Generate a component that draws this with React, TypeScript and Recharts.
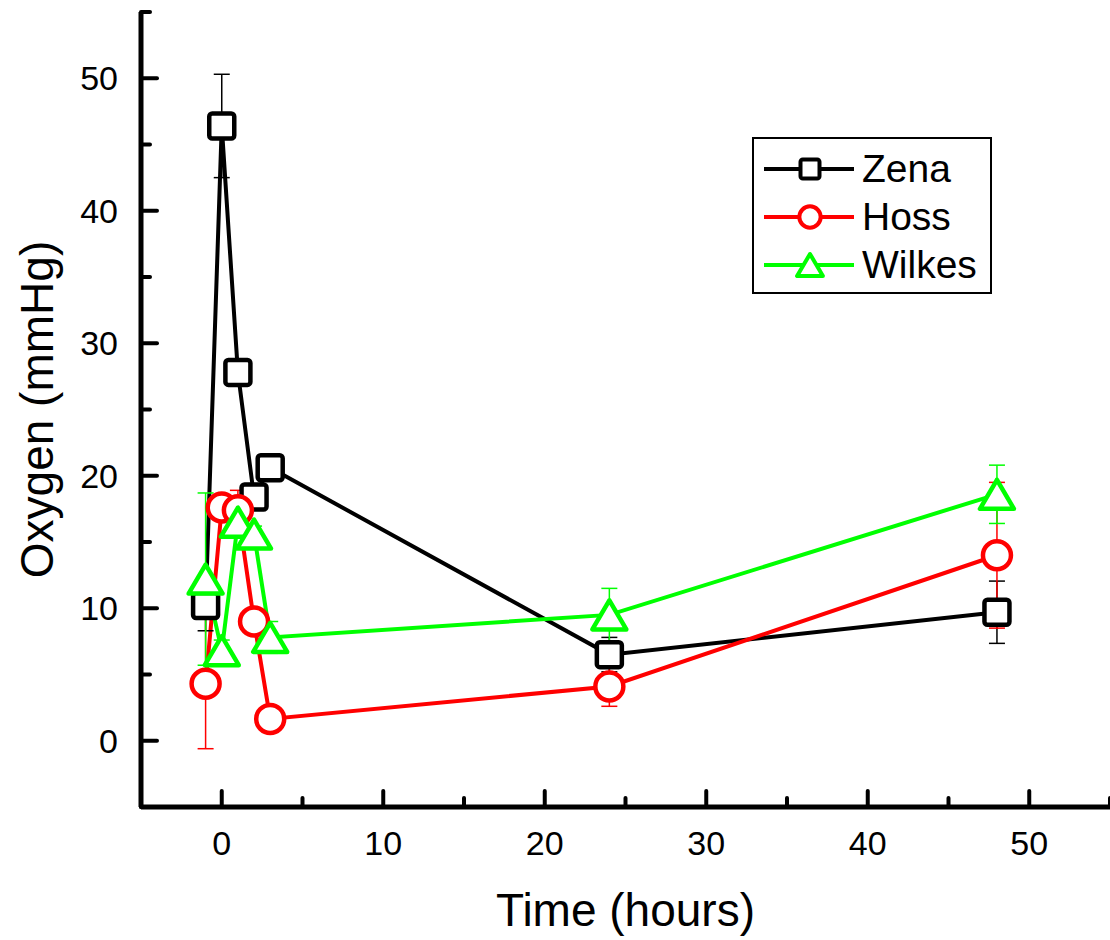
import React from "react"
import { ComposedChart, Line, XAxis, YAxis, ErrorBar, Legend } from "recharts"

// sampling times (hours) and mean oxygen readings per subject
const hours = [-1, 0, 1, 2, 3, 24, 48]
const zena = [10.2, 46.4, 27.8, 18.4, 20.6, 6.5, 9.7]
const zenaErr = [1.9, 3.9, 0.5, 1.0, 0.4, 1.3, 2.35]
const hoss = [4.3, 17.6, 17.4, 9.0, 1.65, 4.1, 14.0]
const hossErr = [4.9, 0.5, 1.5, 0.8, 0.3, 1.5, 5.5]
const wilkes = [12.2, 6.8, 16.5, 15.6, 7.8, 9.5, 18.6]
const wilkesErr = [6.5, 0.8, 0.6, 0.6, 1.2, 2.0, 2.2]

const axisTicks = [-5, 0, 5, 10, 15, 20, 25, 30, 35, 40, 45, 50, 55]

const series = [
  { key: "zena", name: "Zena", color: "#000000", shape: "square" },
  { key: "hoss", name: "Hoss", color: "#ff0000", shape: "circle" },
  { key: "wilkes", name: "Wilkes", color: "#00ff00", shape: "triangle" },
]

const data = hours.map((h, i) => ({
  hour: h,
  zena: zena[i],
  zenaErr: zenaErr[i],
  hoss: hoss[i],
  hossErr: hossErr[i],
  wilkes: wilkes[i],
  wilkesErr: wilkesErr[i],
}))

const FONT = "'Liberation Sans', Arial, sans-serif"

const marker = (shape, color, cx, cy, s, sw, key?) => {
  if (shape === "square") {
    return (
      <rect key={key} x={cx - s / 2} y={cy - s / 2} width={s} height={s} rx={s * 0.12}
        fill="#fff" stroke={color} strokeWidth={sw} />
    )
  }
  if (shape === "circle") {
    return <circle key={key} cx={cx} cy={cy} r={s * 0.56} fill="#fff" stroke={color} strokeWidth={sw} />
  }
  const hw = s * 0.68
  const hh = s * 0.58
  return (
    <polygon key={key} points={`${cx},${cy - hh} ${cx - hw},${cy + hh} ${cx + hw},${cy + hh}`}
      fill="#fff" stroke={color} strokeWidth={sw} strokeLinejoin="round" />
  )
}

const makeDot = (shape, color) => (props) => {
  const { cx, cy, index } = props
  if (cx == null || cy == null) return <g key={`${shape}-${index}`} />
  return marker(shape, color, cx, cy, 25, 4.5, `${shape}-${index}`)
}

const XTick = (props) => {
  const { x, y, payload } = props
  const v = payload.value
  const major = v % 10 === 0
  return (
    <g>
      <line x1={x} y1={y} x2={x} y2={y - (major ? 16 : 9)} stroke="#000" strokeWidth={4} strokeLinecap="round" />
      {major && (
        <text x={x} y={y + 48} textAnchor="middle" fontSize={34} fontFamily={FONT} fill="#000">
          {v}
        </text>
      )}
    </g>
  )
}

const YTick = (props) => {
  const { x, y, payload } = props
  const v = payload.value
  const major = v % 10 === 0
  return (
    <g>
      <line x1={x} y1={y} x2={x + (major ? 16 : 9)} y2={y} stroke="#000" strokeWidth={4} strokeLinecap="round" />
      {major && (
        <text x={x - 23} y={y + 12} textAnchor="end" fontSize={34} fontFamily={FONT} fill="#000">
          {v}
        </text>
      )}
    </g>
  )
}

const LegendBox = () => (
  <div
    style={{
      width: 240,
      height: 157,
      boxSizing: "border-box",
      border: "2px solid #000",
      background: "#fff",
      paddingTop: 6,
    }}
  >
    {series.map((s) => (
      <div key={s.key} style={{ display: "flex", alignItems: "center", height: 48 }}>
        <svg width={108} height={40} style={{ display: "block" }}>
          <line x1={10} y1={20} x2={100} y2={20} stroke={s.color} strokeWidth={4} />
          {marker(s.shape, s.color, 56, 20, 19, 4)}
        </svg>
        <span style={{ fontFamily: FONT, fontSize: 39, color: "#000", lineHeight: "40px" }}>{s.name}</span>
      </div>
    ))}
  </div>
)

export default function App() {
  return (
    <div style={{ position: "absolute", left: 0, top: 0, width: 1110, height: 940, background: "#fff" }}>
      <ComposedChart width={1110} height={940} data={data} margin={{ top: 12, right: 0, left: 0, bottom: 0 }}>
        <XAxis
          type="number"
          dataKey="hour"
          domain={[-5, 55]}
          ticks={axisTicks}
          interval={0}
          allowDataOverflow
          height={133}
          tickSize={0}
          tickMargin={0}
          tickLine={false}
          axisLine={{ stroke: "#000", strokeWidth: 5 }}
          tick={<XTick />}
          label={{
            value: "Time (hours)",
            position: "insideBottom",
            offset: 14,
            style: { fontSize: 46, fontFamily: FONT, fill: "#000" },
          }}
        />
        <YAxis
          type="number"
          domain={[-5, 55]}
          ticks={axisTicks}
          interval={0}
          allowDataOverflow
          width={141}
          tickSize={0}
          tickMargin={0}
          tickLine={false}
          axisLine={{ stroke: "#000", strokeWidth: 5 }}
          tick={<YTick />}
          label={{
            value: "Oxygen (mmHg)",
            angle: -90,
            position: "insideLeft",
            offset: 37,
            style: { fontSize: 46, fontFamily: FONT, fill: "#000", textAnchor: "middle" },
          }}
        />
        <Legend
          layout="vertical"
          align="center"
          verticalAlign="middle"
          wrapperStyle={{ left: 752, top: 137, width: 240 }}
          content={() => <LegendBox />}
        />
        {series.map((s) => (
          <Line
            key={s.key}
            dataKey={s.key}
            name={s.name}
            type="linear"
            stroke={s.color}
            strokeWidth={4}
            dot={makeDot(s.shape, s.color)}
            activeDot={false}
            isAnimationActive={false}
          />
        ))}
        {series.map((s) => (
          <Line
            key={`${s.key}-err`}
            dataKey={s.key}
            stroke="none"
            dot={false}
            activeDot={false}
            legendType="none"
            isAnimationActive={false}
          >
            <ErrorBar dataKey={`${s.key}Err`} direction="y" width={8} stroke={s.color} strokeWidth={1.5} />
          </Line>
        ))}
      </ComposedChart>
    </div>
  )
}
